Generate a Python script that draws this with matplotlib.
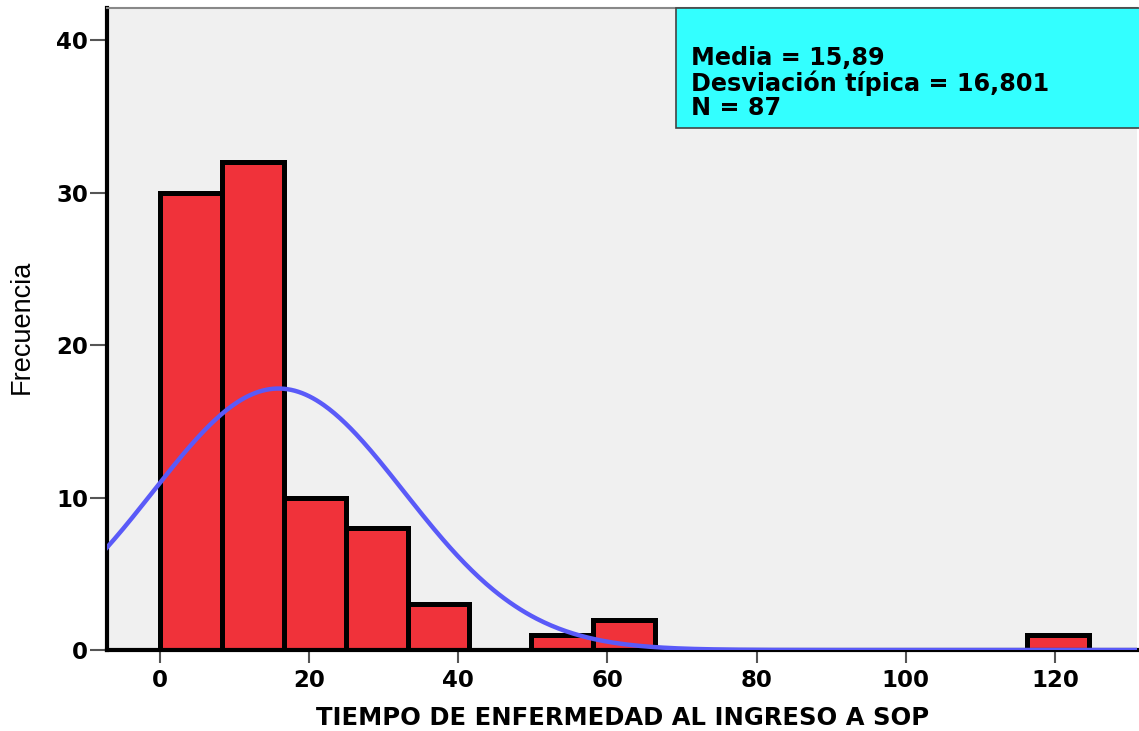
import numpy as np
import matplotlib
matplotlib.use("Agg")
import matplotlib.pyplot as plt
from matplotlib.patches import Rectangle

# Data
bin_start = 0.0
bin_width = 8.3
counts = [30, 32, 10, 8, 3, 0, 1, 2, 0, 0, 0, 0, 0, 0, 1]
mean_val = 15.89
sd_val = 16.801
n_val = 87
x_ticks = [0, 20, 40, 60, 80, 100, 120]
y_ticks = [0, 10, 20, 30, 40]
stats_lines = ["Media = 15,89", "Desviación típica = 16,801", "N = 87"]
xlabel = "TIEMPO DE ENFERMEDAD AL INGRESO A SOP"
ylabel = "Frecuencia"

plt.rcParams['font.family'] = ['DejaVu Sans']

fig = plt.figure(figsize=(11.39, 7.31), dpi=100)
ax = fig.add_axes([107/1139, 1 - 650/731, (1137-107)/1139, (650-8)/731])
ax.set_facecolor('#F0F0F0')

lefts = [bin_start + i * bin_width for i in range(len(counts))]
ax.bar(lefts, counts, width=bin_width, align='edge', color='#F0323A',
       edgecolor='black', linewidth=3.6, zorder=2)

xs = np.linspace(-10, 135, 600)
pdf = n_val * bin_width / (sd_val * np.sqrt(2 * np.pi)) * np.exp(-0.5 * ((xs - mean_val) / sd_val) ** 2)
ax.plot(xs, pdf, color='#5A5AF8', linewidth=3.2, zorder=3, solid_capstyle='butt')

ax.set_xlim(-7.1, 131.0)
ax.set_ylim(0, 42.1)
ax.set_xticks(x_ticks)
ax.set_yticks(y_ticks)
ax.tick_params(axis='both', direction='out', colors='#555555', width=1.5,
               labelcolor='black', labelsize=16.5)
ax.tick_params(axis='y', length=12, pad=1.5)
ax.tick_params(axis='x', length=9.5, pad=4)
for lab in ax.get_xticklabels() + ax.get_yticklabels():
    lab.set_fontweight('bold')

for s in ['left', 'bottom']:
    ax.spines[s].set_linewidth(3.0)
    ax.spines[s].set_color('black')
ax.spines['top'].set_color('#888888')
ax.spines['top'].set_linewidth(1.5)
ax.spines['right'].set_visible(False)

ax.set_xlabel(xlabel, fontsize=17.5, fontweight='bold')
ax.xaxis.set_label_coords((623 - 107) / 1030, (650 - 706) / 642)
ax.set_ylabel(ylabel, fontsize=19.5, family=['Liberation Sans', 'DejaVu Sans'])
ax.yaxis.set_label_coords((35 - 107) / 1030, (650 - 327) / 642)

# stats box
bx0 = (676 - 107) / 1030
by0 = (650 - 128) / 642
rect = Rectangle((bx0, by0), 1.0 - bx0 + 0.01, 1.0 - by0, transform=ax.transAxes,
                 facecolor='#33FFFF', edgecolor='#444444', linewidth=1.2, zorder=5, clip_on=False)
ax.add_patch(rect)
ax.text((691 - 107) / 1030, (650 - 83) / 642, "\n".join(stats_lines), transform=ax.transAxes,
        fontsize=17.2, fontweight='bold', va='center', ha='left', linespacing=1.03, zorder=6)

fig.savefig("out.png", dpi=100, facecolor='white')
